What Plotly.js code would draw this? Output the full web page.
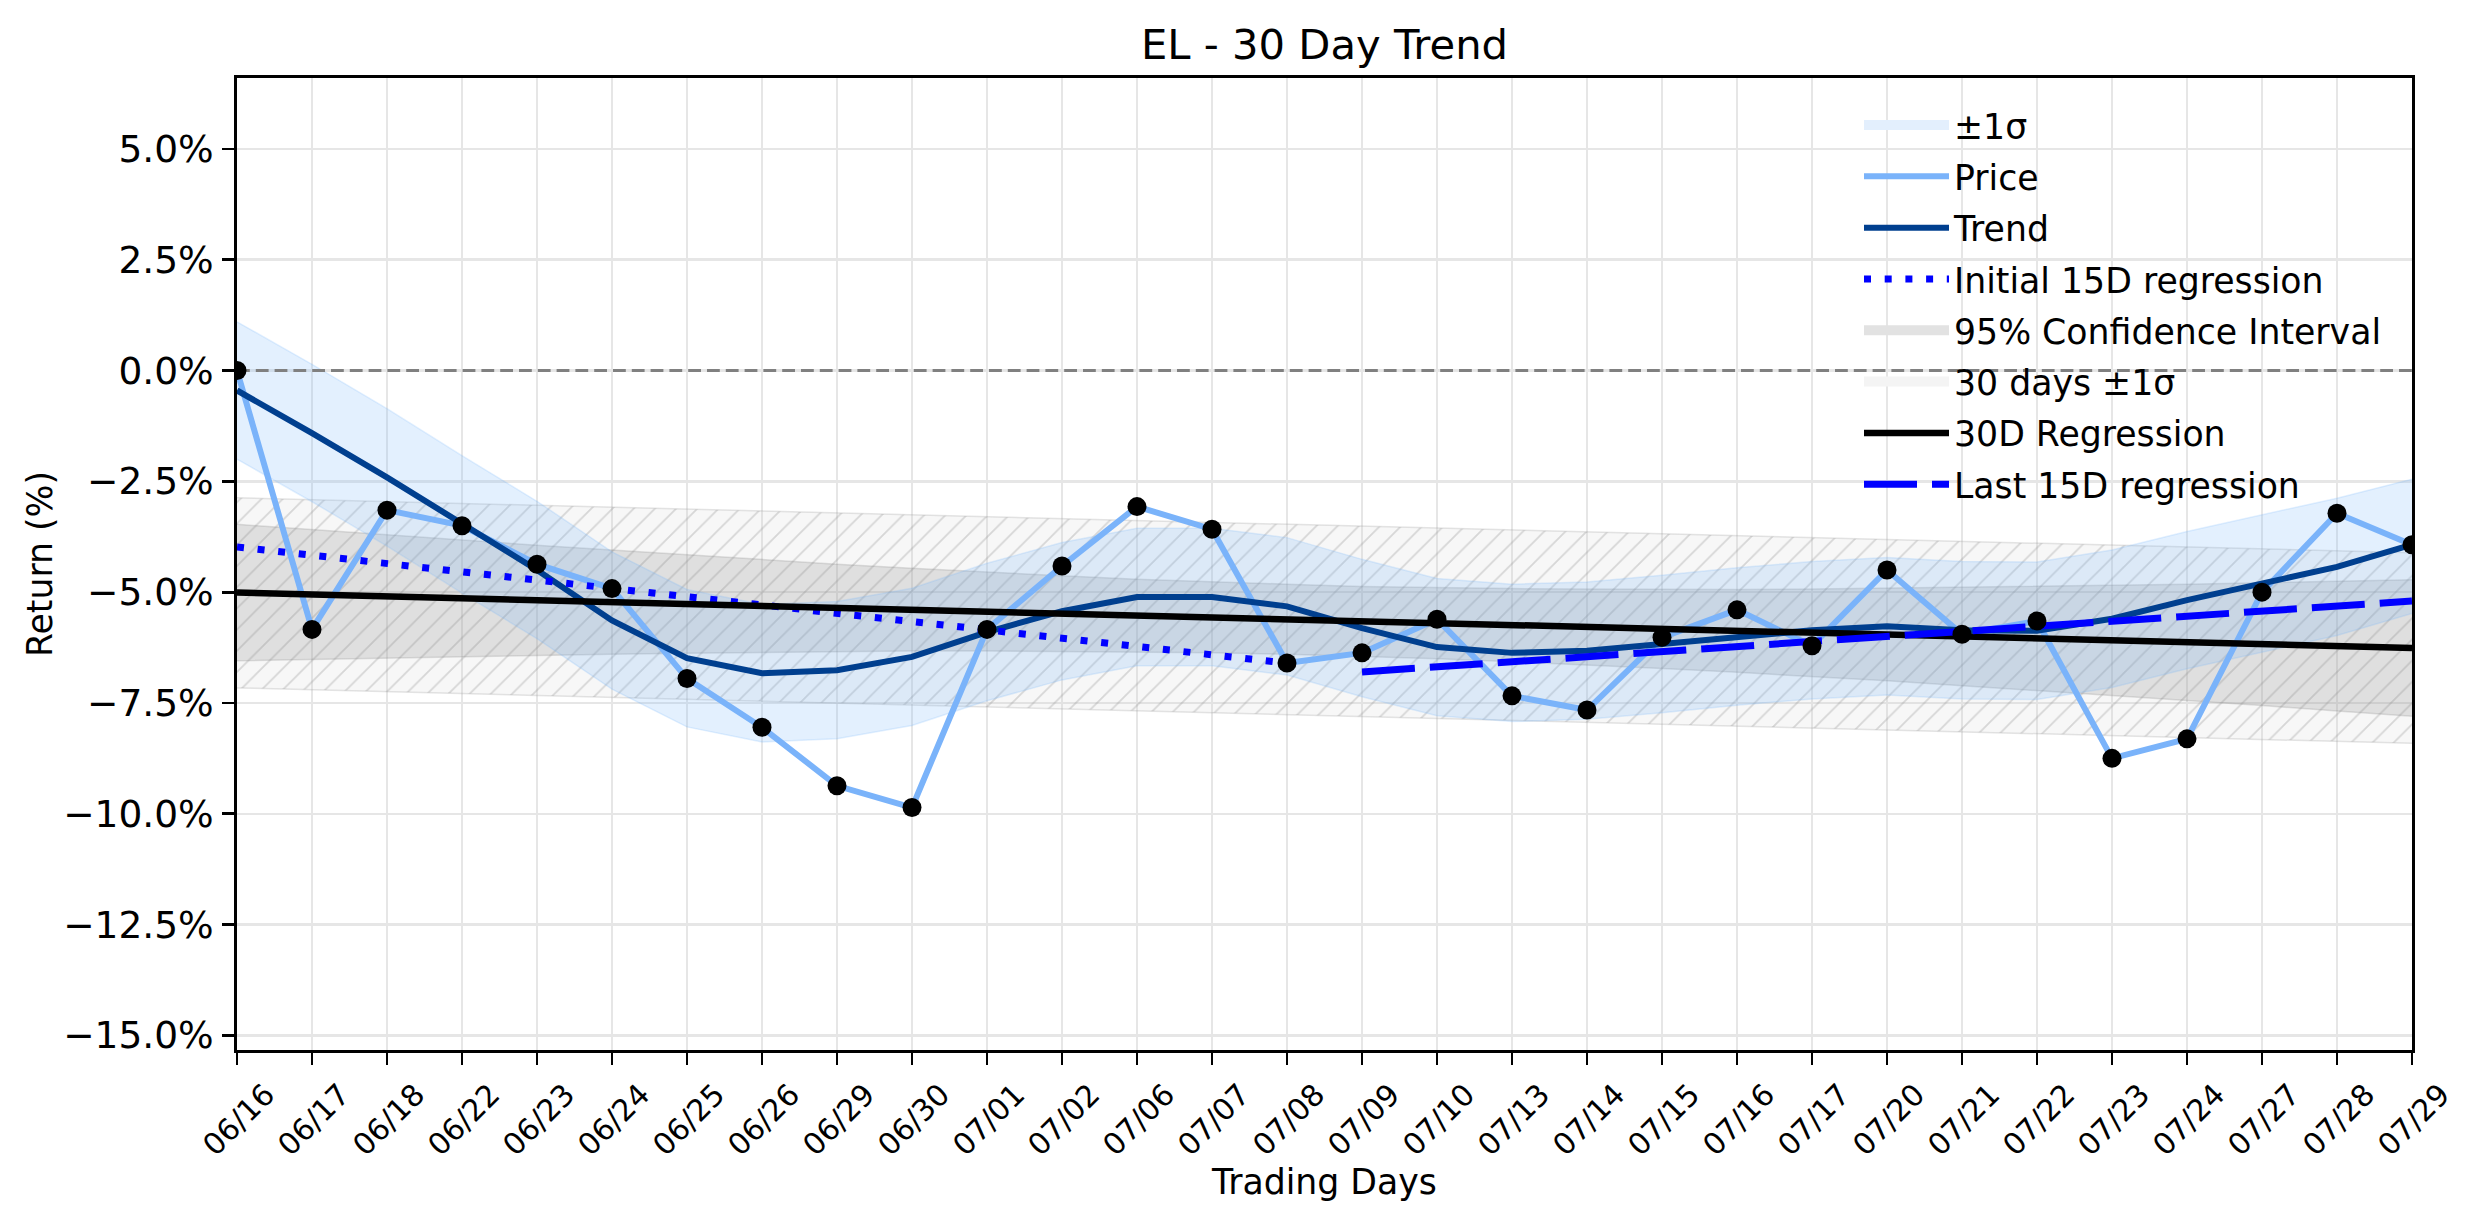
<!DOCTYPE html>
<html><head><meta charset="utf-8">
<script src="https://cdn.plot.ly/plotly-3.0.1.min.js"></script>
<style>html,body{margin:0;padding:0;background:#fff}</style>
</head><body><div id="chart" style="width:2474px;height:1224px"></div>
<script>
// ---- data ----
const dates = ['06/16','06/17','06/18','06/22','06/23','06/24','06/25','06/26','06/29','06/30',
  '07/01','07/02','07/06','07/07','07/08','07/09','07/10','07/13','07/14','07/15',
  '07/16','07/17','07/20','07/21','07/22','07/23','07/24','07/27','07/28','07/29'];
const price = [0.00,-5.84,-3.15,-3.50,-4.37,-4.92,-6.95,-8.05,-9.37,-9.86,
  -5.84,-4.41,-3.07,-3.58,-6.60,-6.37,-5.61,-7.34,-7.66,-6.02,
  -5.40,-6.21,-4.50,-5.95,-5.65,-8.75,-8.31,-5.00,-3.22,-3.93];
const trend = [-0.45,-1.41,-2.41,-3.47,-4.50,-5.64,-6.49,-6.83,-6.76,-6.46,
  -5.90,-5.43,-5.11,-5.11,-5.32,-5.81,-6.24,-6.37,-6.32,-6.17,
  -6.00,-5.86,-5.77,-5.86,-5.87,-5.60,-5.18,-4.80,-4.43,-3.93];
const sigmaUpper = [1.10,0.14,-0.86,-1.92,-2.95,-4.09,-4.94,-5.28,-5.21,-4.91,
  -4.35,-3.88,-3.56,-3.56,-3.77,-4.26,-4.69,-4.82,-4.77,-4.62,
  -4.45,-4.31,-4.22,-4.31,-4.32,-4.05,-3.63,-3.25,-2.88,-2.45];
const sigmaLower = [-2.00,-2.96,-3.96,-5.02,-6.05,-7.19,-8.04,-8.38,-8.31,-8.01,
  -7.45,-6.98,-6.66,-6.66,-6.87,-7.36,-7.79,-7.92,-7.87,-7.72,
  -7.55,-7.41,-7.32,-7.41,-7.42,-7.15,-6.73,-6.35,-5.98,-5.48];
const ciUpper = [-3.47,-3.59,-3.71,-3.83,-3.94,-4.05,-4.16,-4.27,-4.37,-4.46,
  -4.55,-4.63,-4.71,-4.77,-4.82,-4.87,-4.90,-4.92,-4.93,-4.94,
  -4.94,-4.93,-4.91,-4.89,-4.87,-4.85,-4.82,-4.79,-4.75,-4.72];
const ciLower = [-6.55,-6.52,-6.48,-6.45,-6.42,-6.40,-6.38,-6.36,-6.34,-6.33,
  -6.33,-6.34,-6.35,-6.37,-6.40,-6.45,-6.50,-6.57,-6.64,-6.72,
  -6.81,-6.90,-7.00,-7.11,-7.22,-7.33,-7.45,-7.56,-7.68,-7.80];
const reg30Dates = ['06/16','07/29'];
const reg30 = [-5.01,-6.26];
const band30Upper = [-2.87,-4.11];
const band30Lower = [-7.16,-8.41];
const init15Dates = ['06/16','07/08'];
const init15 = [-3.98,-6.60];
const last15Dates = ['07/09','07/29'];
const last15 = [-6.80,-5.20];
const zeroLine = [0,0];
const yTickVals = [-15,-12.5,-10,-7.5,-5,-2.5,0,2.5,5];
const yTickText = ['\u221215.0%','\u221212.5%','\u221210.0%','\u22127.5%','\u22125.0%','\u22122.5%','0.0%','2.5%','5.0%'];

const F = 'DejaVu Sans, Verdana, sans-serif';
const nul = [null];
let g = 0;
const grp = () => 'g' + (g++);
const traces = [
  // 30 days ±1σ hatched band
  {x: reg30Dates, y: band30Lower, mode:'lines', line:{color:'rgba(150,150,150,0.25)', width:1.5}, showlegend:false, hoverinfo:'skip'},
  {x: reg30Dates, y: band30Upper, mode:'lines', fill:'tonexty', line:{color:'rgba(150,150,150,0.25)', width:1.5},
   fillcolor:'rgba(200,200,200,0.15)',
   fillpattern:{shape:'/', fgcolor:'rgba(150,150,150,0.35)', bgcolor:'rgba(200,200,200,0.15)', size:15, solidity:0.12},
   showlegend:false, hoverinfo:'skip'},
  // 95% CI
  {x: dates, y: ciLower, mode:'lines', line:{color:'rgba(128,128,128,0.22)', width:1.5}, showlegend:false, hoverinfo:'skip'},
  {x: dates, y: ciUpper, mode:'lines', fill:'tonexty', fillcolor:'rgba(128,128,128,0.2)', line:{color:'rgba(128,128,128,0.22)', width:1.5}, showlegend:false, hoverinfo:'skip'},
  // ±1σ band
  {x: dates, y: sigmaLower, mode:'lines', line:{color:'rgba(116,178,250,0.2)', width:1.5}, showlegend:false, hoverinfo:'skip'},
  {x: dates, y: sigmaUpper, mode:'lines', fill:'tonexty', fillcolor:'rgba(116,178,250,0.2)', line:{color:'rgba(116,178,250,0.2)', width:1.5}, showlegend:false, hoverinfo:'skip'},
  // zero line
  {x: reg30Dates, y: zeroLine, mode:'lines', line:{color:'#808080', width:3, dash:'12.8px,6px'}, showlegend:false, hoverinfo:'skip'},
  // legend proxy for ±1σ band
  {x: nul, y: nul, mode:'lines', name:'\u00b11\u03c3', legendgroup:grp(), line:{color:'#e3effd', width:26}},
  // lines
  {x: dates, y: price, mode:'lines', name:'Price', legendgroup:grp(), line:{color:'#7ab3fa', width:6}},
  {x: dates, y: trend, mode:'lines', name:'Trend', legendgroup:grp(), line:{color:'#003f8f', width:6}},
  {x: init15Dates, y: init15, mode:'lines', name:'Initial 15D regression', legendgroup:grp(), line:{color:'#0000ff', width:7, dash:'7px,13.7px'}},
  {x: nul, y: nul, mode:'lines', name:'95% Confidence Interval', legendgroup:grp(), line:{color:'#e2e2e2', width:26}},
  {x: nul, y: nul, mode:'lines', name:'30 days \u00b11\u03c3', legendgroup:grp(), line:{color:'#f4f4f4', width:26}},
  {x: reg30Dates, y: reg30, mode:'lines', name:'30D Regression', legendgroup:grp(), line:{color:'#000000', width:6.5}},
  {x: last15Dates, y: last15, mode:'lines', name:'Last 15D regression', legendgroup:grp(), line:{color:'#0000ff', width:7, dash:'53px,15px'}},
  {x: dates, y: price, mode:'markers', marker:{color:'#000', size:19}, showlegend:false, hoverinfo:'skip'}
];

const layout = {
  width:2474, height:1224, autosize:false,
  margin:{l:237, r:62, t:78, b:174, pad:0},
  paper_bgcolor:'#fff', plot_bgcolor:'#fff',
  font:{family:F, color:'#000', size:34.7},
  title:{text:'EL - 30 Day Trend', font:{family:F, size:41.7, color:'#000'}, x:0.5, xref:'paper', xanchor:'center', y:1-44/1224, yref:'container', yanchor:'middle'},
  xaxis:{type:'category', categoryorder:'array', categoryarray:dates, range:[0,29],
    showgrid:true, gridcolor:'#e6e6e6', gridwidth:2.5,
    showline:true, linecolor:'#000', linewidth:2.8, mirror:true,
    ticks:'outside', ticklen:12, tickwidth:2.8, tickcolor:'#000',
    tickangle:-45, tickfont:{family:F, size:30, color:'#000'}, ticklabelshift:29,
    title:{text:'Trading Days', font:{family:F, size:34.7, color:'#000'}, standoff:6},
    zeroline:false, automargin:false},
  yaxis:{range:[-15.33,6.60], tickvals:yTickVals, ticktext:yTickText,
    showgrid:true, gridcolor:'#e6e6e6', gridwidth:2.5,
    showline:true, linecolor:'#000', linewidth:2.8, mirror:true,
    ticks:'outside', ticklen:12, tickwidth:2.8, tickcolor:'#000',
    tickfont:{family:F, size:37.5, color:'#000'}, ticklabelstandoff:1,
    title:{text:'Return (%)', font:{family:F, size:34.7, color:'#000'}, standoff:0},
    zeroline:false, automargin:false},
  showlegend:true,
  legend:{x:(1859-237)/2175, xanchor:'left', y:1-(96-78)/972, yanchor:'top',
    bgcolor:'rgba(0,0,0,0)', borderwidth:0, font:{family:F, size:34.7, color:'#000'},
    itemwidth:85, traceorder:'grouped', tracegroupgap:3.2}
};
Plotly.newPlot('chart', traces, layout, {staticPlot:true, displayModeBar:false});
</script></body></html>
